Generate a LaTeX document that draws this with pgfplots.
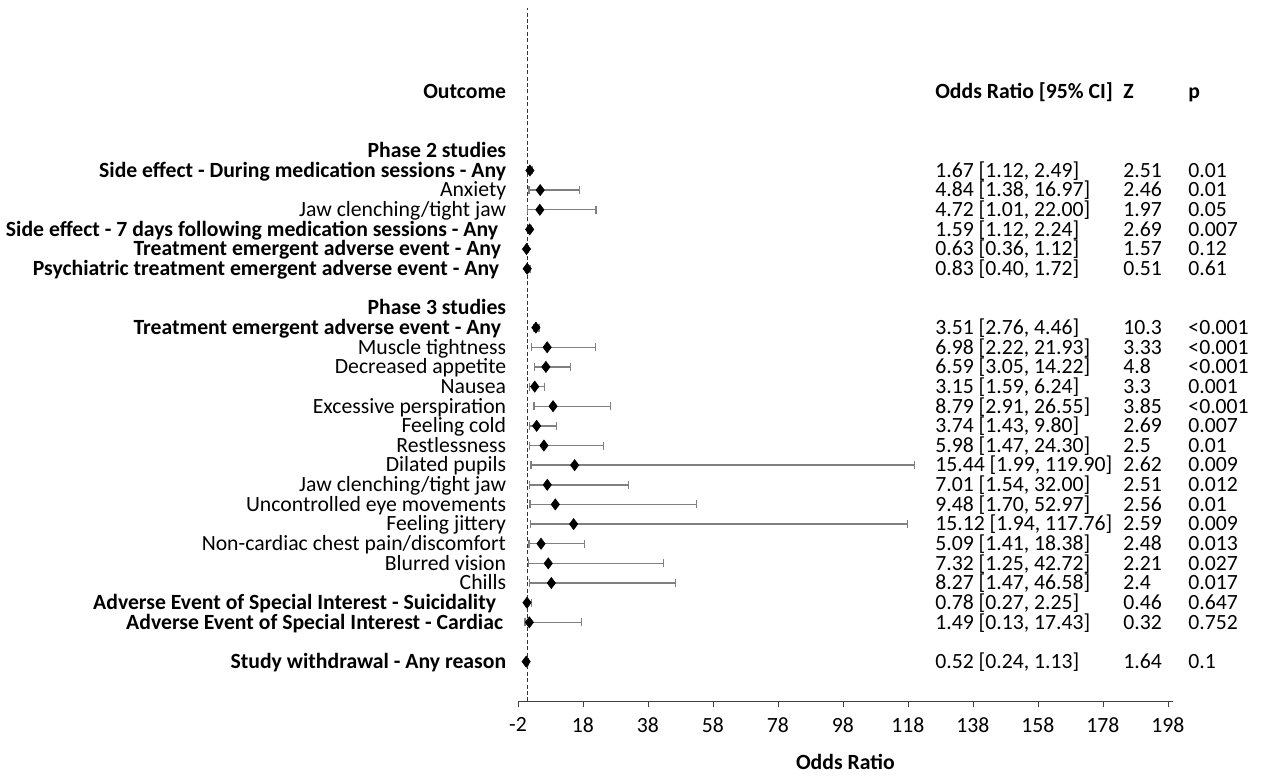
\documentclass[border=0pt]{standalone}
\usepackage{fontspec}
\setmainfont{Carlito}
\usepackage{pgfplots}
\usepackage{pgfplotstable}
\pgfplotsset{compat=1.18}
\tikzset{txt/.style={inner sep=0pt, black, yshift=-3.4pt}}

% y = -(row number), or / lo / hi = odds ratio and 95% CI
\pgfplotstableread[col sep=semicolon]{
y;or;lo;hi;label;ci;z;p
-4;1.67;1.12;2.49;\textbf{Side effect - During medication sessions - Any};1.67 [1.12, 2.49];2.51;0.01
-5;4.84;1.38;16.97;Anxiety;4.84 [1.38, 16.97];2.46;0.01
-6;4.72;1.01;22.00;Jaw clenching/tight jaw;4.72 [1.01, 22.00];1.97;0.05
-7;1.59;1.12;2.24;\textbf{Side effect - 7 days following medication sessions - Any}\kern4pt;1.59 [1.12, 2.24];2.69;0.007
-8;0.63;0.36;1.12;\textbf{Treatment emergent adverse event - Any}\kern2.5pt;0.63 [0.36, 1.12];1.57;0.12
-9;0.83;0.40;1.72;\textbf{Psychiatric treatment emergent adverse event - Any}\kern3.5pt;0.83 [0.40, 1.72];0.51;0.61
-12;3.51;2.76;4.46;\textbf{Treatment emergent adverse event - Any}\kern2.5pt;3.51 [2.76, 4.46];10.3;<0.001
-13;6.98;2.22;21.93;Muscle tightness;6.98 [2.22, 21.93];3.33;<0.001
-14;6.59;3.05;14.22;Decreased appetite;6.59 [3.05, 14.22];4.8;<0.001
-15;3.15;1.59;6.24;Nausea;3.15 [1.59, 6.24];3.3;0.001
-16;8.79;2.91;26.55;Excessive perspiration;8.79 [2.91, 26.55];3.85;<0.001
-17;3.74;1.43;9.80;Feeling cold;3.74 [1.43, 9.80];2.69;0.007
-18;5.98;1.47;24.30;Restlessness;5.98 [1.47, 24.30];2.5;0.01
-19;15.44;1.99;119.90;Dilated pupils;15.44 [1.99, 119.90];2.62;0.009
-20;7.01;1.54;32.00;Jaw clenching/tight jaw;7.01 [1.54, 32.00];2.51;0.012
-21;9.48;1.70;52.97;Uncontrolled eye movements;9.48 [1.70, 52.97];2.56;0.01
-22;15.12;1.94;117.76;Feeling jittery;15.12 [1.94, 117.76];2.59;0.009
-23;5.09;1.41;18.38;Non-cardiac chest pain/discomfort;5.09 [1.41, 18.38];2.48;0.013
-24;7.32;1.25;42.72;Blurred vision;7.32 [1.25, 42.72];2.21;0.027
-25;8.27;1.47;46.58;Chills;8.27 [1.47, 46.58];2.4;0.017
-26;0.78;0.27;2.25;\textbf{Adverse Event of Special Interest - Suicidality}\kern5pt;0.78 [0.27, 2.25];0.46;0.647
-27;1.49;0.13;17.43;\textbf{Adverse Event of Special Interest - Cardiac}\kern1.5pt;1.49 [0.13, 17.43];0.32;0.752
-29;0.52;0.24;1.13;\textbf{Study withdrawal - Any reason};0.52 [0.24, 1.13];1.64;0.1
}\forest

\begin{document}
\begin{tikzpicture}[font=\fontsize{10.85}{13}\selectfont]
\useasboundingbox (-259pt,-40.25pt) rectangle (374pt,350.75pt);
\begin{axis}[
    scale only axis,
    width=327.4pt,
    height=346.75pt,
    at={(0,0)}, anchor=south west,
    xmin=-2, xmax=199.5,
    ymin=-31.03, ymax=4.27,
    clip=false,
    axis x line*=bottom,
    axis y line=none,
    x axis line style={black!75, -},
    xtick={-2,18,38,58,78,98,118,138,158,178,198},
    xticklabels={-2,18,38,58,78,98,118,138,158,178,198},
    tick align=outside,
    major tick length=3pt,
    tick style={black!75},
    xticklabel style={yshift=-1.5pt},
    xlabel={\textbf{Odds Ratio}},
    xlabel style={at={(axis description cs:0.5,0)}, anchor=center, yshift=-30pt},
    font=\fontsize{10.85}{13}\selectfont,
]
% reference line at OR = 1
\addplot[black!80, dashed, dash pattern=on 2pt off 1.2pt, line width=0.5pt]
    coordinates {(1,-31.03) (1,4.27)};
% confidence intervals
\addplot[draw=none, mark=none, forget plot,
    error bars/.cd, x dir=both, x explicit,
    error bar style={black!50, line width=0.7pt},
    error mark options={black!50, mark size=2pt, line width=0.6pt, rotate=90}]
    table[x=or, y=y,
          x error plus expr=\thisrow{hi}-\thisrow{or},
          x error minus expr=\thisrow{or}-\thisrow{lo}] {\forest};
% point estimates
\addplot[only marks, mark=diamond*, mark size=2.7pt, black]
    table[x=or, y=y] {\forest};
% text columns
\addplot[only marks, mark=none, point meta=explicit symbolic,
    nodes near coords, nodes near coords style={anchor=base east, txt}]
    table[x expr=-5.54, y=y, meta=label] {\forest};
\addplot[only marks, mark=none, point meta=explicit symbolic,
    nodes near coords, nodes near coords style={anchor=base west, txt}]
    table[x expr=126.3, y=y, meta=ci] {\forest};
\addplot[only marks, mark=none, point meta=explicit symbolic,
    nodes near coords, nodes near coords style={anchor=base west, txt}]
    table[x expr=184.2, y=y, meta=z] {\forest};
\addplot[only marks, mark=none, point meta=explicit symbolic,
    nodes near coords, nodes near coords style={anchor=base west, txt}]
    table[x expr=204.2, y=y, meta=p] {\forest};
% headers
\node[anchor=base east, txt] at (axis cs:-5.54,0) {\textbf{Outcome}};
\node[anchor=base east, txt] at (axis cs:-5.54,-3) {\textbf{Phase 2 studies}};
\node[anchor=base east, txt] at (axis cs:-5.54,-11) {\textbf{Phase 3 studies}};
\node[anchor=base west, txt] at (axis cs:126.3,0) {\textbf{Odds Ratio [95\% CI]}};
\node[anchor=base west, txt] at (axis cs:184.2,0) {\textbf{Z}};
\node[anchor=base west, txt] at (axis cs:204.2,0) {\textbf{p}};
\end{axis}
\end{tikzpicture}
\end{document}
